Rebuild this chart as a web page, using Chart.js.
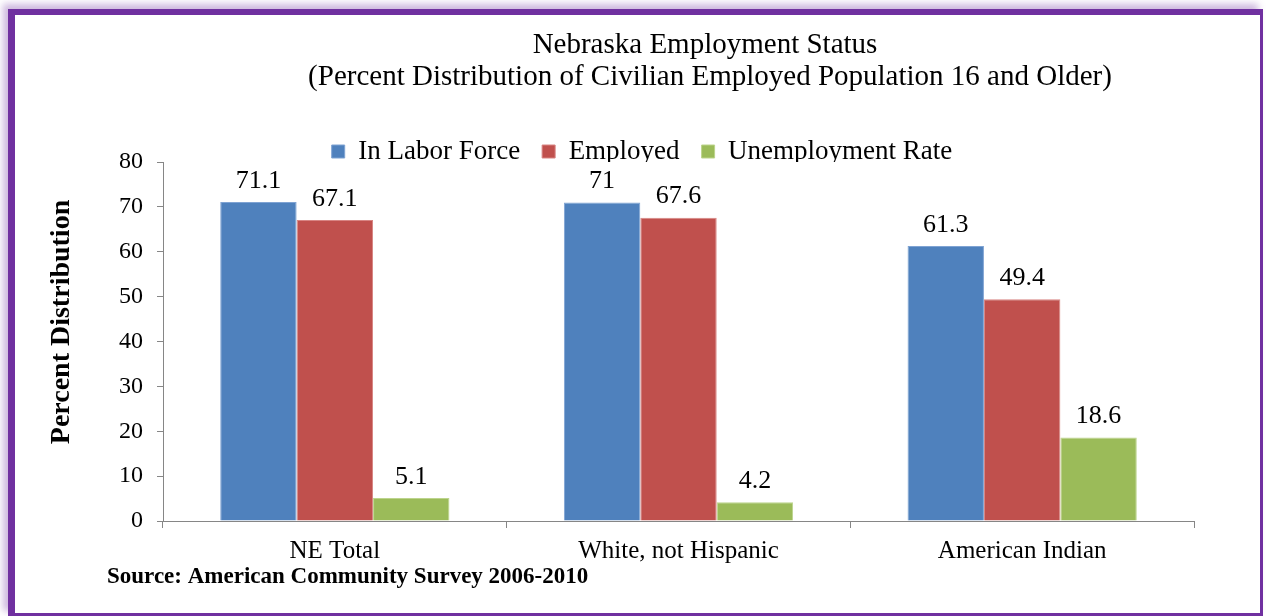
<!DOCTYPE html>
<html>
<head>
<meta charset="utf-8">
<script src="https://cdn.jsdelivr.net/npm/chart.js@4"></script>
<style>
  html, body { margin: 0; padding: 0; background: #fff; }
  #wrap { position: relative; width: 1266px; height: 616px; overflow: hidden; }
  #chart { position: absolute; left: 0; top: 0; }
  #frame {
    position: absolute; left: 8px; top: 9px; width: 1255px; height: 607px;
    box-sizing: border-box;
    border-style: solid; border-color: #7030a0;
    border-width: 6px 3px 3px 7px;
    box-shadow: -5px -5px 7px rgba(112, 48, 160, 0.35);
    pointer-events: none;
  }
</style>
</head>
<body>
<div id="wrap">
  <canvas id="chart" width="1266" height="616"></canvas>
  <div id="frame"></div>
</div>
<script>
// ---- data ----
const categories = ['NE Total', 'White, not Hispanic', 'American Indian'];
const laborForce = [71.1, 71, 61.3];
const employed = [67.1, 67.6, 49.4];
const unemploymentRate = [5.1, 4.2, 18.6];
const yTicks = [0, 10, 20, 30, 40, 50, 60, 70, 80];

const titleLines = [
  'Nebraska Employment Status',
  '(Percent Distribution of Civilian Employed Population 16 and Older)'
];
const yAxisTitle = 'Percent Distribution';
const sourceNote = 'Source: American Community Survey 2006-2010';

const SERIF = "'Liberation Serif', 'DejaVu Serif', serif";
const AXIS_GRAY = '#868686';

// two-line heading, drawn above the legend
const headingPlugin = {
  id: 'heading',
  afterDraw(chart) {
    const ctx = chart.ctx;
    ctx.save();
    ctx.fillStyle = '#000';
    ctx.textAlign = 'center';
    ctx.textBaseline = 'middle';
    ctx.font = `29px ${SERIF}`;
    ctx.fillText(titleLines[0], 705, 45);
    ctx.fillText(titleLines[1], 710, 77);
    ctx.restore();
  }
};

// rotated y title plus the source line under the category axis
const sideTexts = {
  id: 'sideTexts',
  afterDraw(chart) {
    const ctx = chart.ctx;
    ctx.save();
    ctx.fillStyle = '#000';
    ctx.textBaseline = 'middle';

    ctx.font = `bold 23px ${SERIF}`;
    ctx.textAlign = 'left';
    ctx.fillText(sourceNote, 107, 577);

    ctx.translate(62, 322);
    ctx.rotate(-Math.PI / 2);
    ctx.textAlign = 'center';
    ctx.font = `bold 28px ${SERIF}`;
    ctx.fillText(yAxisTitle, 0, 0);
    ctx.restore();
  }
};

// value printed above every bar
const valueLabels = {
  id: 'valueLabels',
  afterDatasetsDraw(chart) {
    const ctx = chart.ctx;
    ctx.save();
    ctx.fillStyle = '#000';
    ctx.textAlign = 'center';
    ctx.textBaseline = 'middle';
    ctx.font = `26px ${SERIF}`;
    chart.data.datasets.forEach((ds, i) => {
      chart.getDatasetMeta(i).data.forEach((bar, j) => {
        ctx.fillText(String(ds.data[j]), bar.x, bar.y - 21);
      });
    });
    ctx.restore();
  }
};

const ctx = document.getElementById('chart').getContext('2d');
new Chart(ctx, {
  type: 'bar',
  data: {
    labels: categories,
    datasets: [
      { label: 'In Labor Force', data: laborForce, backgroundColor: '#4f81bd', borderColor: '#7fa3d3' },
      { label: 'Employed', data: employed, backgroundColor: '#c0504d', borderColor: '#d88583' },
      { label: 'Unemployment Rate', data: unemploymentRate, backgroundColor: '#9bbb59', borderColor: '#bcd48c' }
    ].map(ds => ({ ...ds, borderWidth: 1, categoryPercentage: 0.667, barPercentage: 1 }))
  },
  options: {
    responsive: false,
    animation: false,
    devicePixelRatio: 1,
    layout: { padding: { left: 90, right: 72, top: 116, bottom: 0 } },
    scales: {
      x: {
        grid: { drawOnChartArea: false, offset: true, color: AXIS_GRAY, tickLength: 7 },
        border: { color: AXIS_GRAY, width: 1 },
        ticks: { color: '#000', font: { family: SERIF, size: 25 }, padding: 8, maxRotation: 0 },
        afterFit(scale) { scale.height = 95; }
      },
      y: {
        min: 0,
        max: 80,
        afterBuildTicks(scale) { scale.ticks = yTicks.map(v => ({ value: v })); },
        grid: { drawOnChartArea: false, color: AXIS_GRAY, tickLength: 6 },
        border: { color: AXIS_GRAY, width: 1 },
        ticks: { color: '#000', font: { family: SERIF, size: 24 }, padding: 14 },
        afterFit(scale) { scale.width = 73; }
      }
    },
    plugins: {
      legend: {
        position: 'top',
        maxHeight: 46,
        labels: {
          color: '#000',
          font: { family: SERIF, size: 27 },
          boxWidth: 13,
          boxHeight: 13,
          padding: 22
        }
      },
      tooltip: { enabled: false }
    }
  },
  plugins: [headingPlugin, sideTexts, valueLabels]
});
</script>
</body>
</html>
